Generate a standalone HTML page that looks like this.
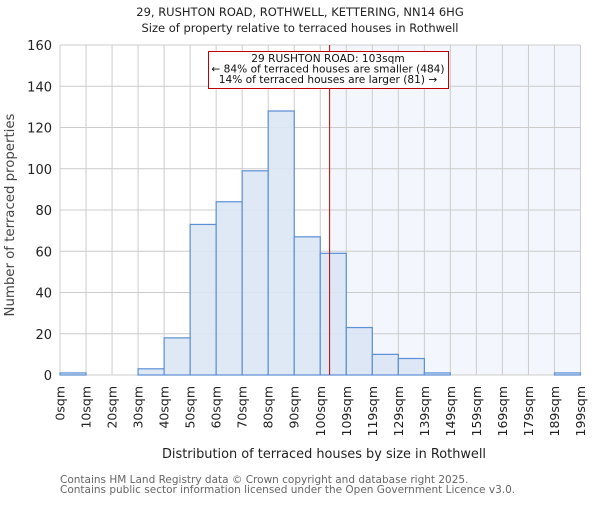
<!DOCTYPE html>
<html><head><meta charset="utf-8"><style>
body{margin:0;background:#fff;}
svg{font-family:"DejaVu Sans","Liberation Sans",sans-serif;}
</style></head><body>
<svg id="chart" width="600" height="500" viewBox="0 0 600 500">
<text x="300" y="16" text-anchor="middle" font-size="11.5" fill="#222">29, RUSHTON ROAD, ROTHWELL, KETTERING, NN14 6HG</text>
<text x="300" y="32" text-anchor="middle" font-size="11.5" fill="#222">Size of property relative to terraced houses in Rothwell</text>
<g id="plot"></g>
<text x="324" y="458" text-anchor="middle" font-size="12.9" fill="#222">Distribution of terraced houses by size in Rothwell</text>
<text transform="translate(14,215) rotate(-90)" text-anchor="middle" font-size="13.3" fill="#444">Number of terraced properties</text>
<text x="60" y="483" font-size="10.5" fill="#666">Contains HM Land Registry data © Crown copyright and database right 2025.</text>
<text x="60" y="493" font-size="10.5" fill="#666">Contains public sector information licensed under the Open Government Licence v3.0.</text>
</svg>
<script>
const counts = [1,0,0,3,18,73,84,99,128,67,59,23,10,8,1,0,0,0,0,1];
const edgeLabels = ["0sqm","10sqm","20sqm","30sqm","40sqm","50sqm","60sqm","70sqm","80sqm","90sqm","100sqm","109sqm","119sqm","129sqm","139sqm","149sqm","159sqm","169sqm","179sqm","189sqm","199sqm"];
const yTicks = [0,20,40,60,80,100,120,140,160];
const markerBin = 10.36;
const annotationLines = ["29 RUSHTON ROAD: 103sqm","← 84% of terraced houses are smaller (484)","14% of terraced houses are larger (81) →"];

const NS="http://www.w3.org/2000/svg";
const g=document.getElementById('plot');
const X0=60,X1=580.5,Y0=375,Y1=45;
const xs=i=>X0+(X1-X0)*i/counts.length;
const ys=v=>Y0-(Y0-Y1)*v/160;
function mk(t,a){const e=document.createElementNS(NS,t);for(const k in a)e.setAttribute(k,a[k]);g.appendChild(e);return e;}
let e;
e=mk('rect',{x:xs(markerBin),y:Y1,width:X1-xs(markerBin),height:Y0-Y1,fill:'#f3f6fd'});


for(let i=0;i<=counts.length;i++){e=mk('line',{x1:xs(i),x2:xs(i),y1:Y1,y2:Y0,stroke:'#cccccc','stroke-width':1});

}
yTicks.forEach(v=>{e=mk('line',{x1:X0,x2:X1,y1:ys(v),y2:ys(v),stroke:'#cccccc','stroke-width':1});


const t=mk('text',{x:X0-8,y:ys(v)+5,'text-anchor':'end','font-size':'13',fill:'#222'});t.textContent=v;

});
counts.forEach((c,i)=>{if(c<=0)return;
e=mk('rect',{x:xs(i),y:ys(c),width:xs(i+1)-xs(i),height:Y0-ys(c),fill:'#dce6f4','fill-opacity':0.9,stroke:'#5b8fd6','stroke-width':1.2});

});
edgeLabels.forEach((l,i)=>{const t=mk('text',{transform:`translate(${xs(i)+4.5},386) rotate(-90)`,'text-anchor':'end','font-size':'12.5',fill:'#222'});t.textContent=l;

});
e=mk('line',{x1:xs(markerBin),x2:xs(markerBin),y1:Y1,y2:Y0,stroke:'#c00000','stroke-width':1});


e=mk('rect',{x:208.5,y:51.5,width:240,height:37,fill:'#fff',stroke:'#c00000','stroke-width':1});


annotationLines.forEach((l,k)=>{const t=mk('text',{x:328,y:62+k*10.5,'text-anchor':'middle','font-size':'10.6',fill:'#111'});t.textContent=l;

});
</script>
</body></html>
